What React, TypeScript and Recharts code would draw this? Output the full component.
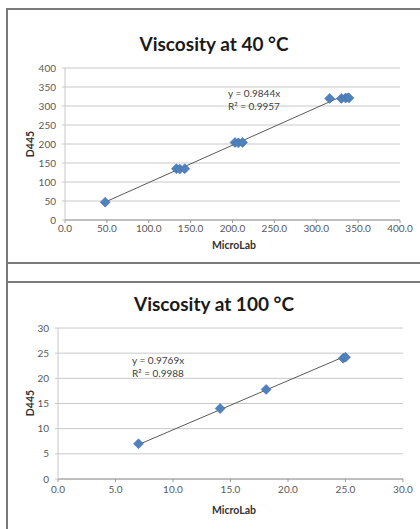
import React from 'react';
import { ScatterChart, Scatter, XAxis, YAxis, CartesianGrid, ReferenceLine } from 'recharts';

// Viscosity at 40 °C
const microLab40 = [48, 133, 137, 143, 203, 207, 212, 316, 330, 335, 339];
const d445At40 = [47, 135, 134, 135, 204, 203, 204, 320, 320, 321, 321];
const slope40 = 0.9844;
const r2At40 = 0.9957;
const xTicks40 = [0, 50, 100, 150, 200, 250, 300, 350, 400];
const yTicks40 = [0, 50, 100, 150, 200, 250, 300, 350, 400];

// Viscosity at 100 °C
const microLab100 = [7.0, 14.1, 18.1, 24.8, 25.0];
const d445At100 = [7.0, 14.0, 17.8, 24.0, 24.2];
const slope100 = 0.9769;
const r2At100 = 0.9988;
const xTicks100 = [0, 5, 10, 15, 20, 25, 30];
const yTicks100 = [0, 5, 10, 15, 20, 25, 30];

const FONT = 'Lato, "Liberation Sans", sans-serif';
const BLUE = '#4F81BD';
const BORDER = '#7a7a7a';

const rows40 = microLab40.map((x, i) => ({ x, y: d445At40[i] }));
const rows100 = microLab100.map((x, i) => ({ x, y: d445At100[i] }));

const Diamond = (props: any) => {
  const { cx, cy } = props;
  if (cx == null || cy == null) return null;
  const r = 5;
  return (
    <polygon
      points={`${cx},${cy - r} ${cx + r},${cy} ${cx},${cy + r} ${cx - r},${cy}`}
      fill={BLUE}
      stroke="#3d6ca8"
      strokeWidth={0.5}
    />
  );
};

const tickStyle = { fontSize: 10, fill: '#595959', fontFamily: FONT };

function abs(style: React.CSSProperties): React.CSSProperties {
  return { position: 'absolute', ...style };
}

function Panel(props: {
  top: number;
  height: number;
  margin: { top: number; right: number; bottom: number; left: number };
  rows: { x: number; y: number }[];
  xs: number[];
  slope: number;
  xTicks: number[];
  yTicks: number[];
  xTickMargin: number;
}) {
  const { rows, xs, slope } = props;
  const xMin = Math.min(...xs);
  const xMax = Math.max(...xs);
  const xDomainMax = props.xTicks[props.xTicks.length - 1];
  const yDomainMax = props.yTicks[props.yTicks.length - 1];
  return (
    <div style={abs({ left: 0, top: props.top, width: 420, height: props.height })}>
      <ScatterChart width={420} height={props.height} margin={props.margin}>
        <CartesianGrid vertical={false} stroke="#c8c8c8" strokeWidth={1} />
        <XAxis
          type="number"
          dataKey="x"
          domain={[0, xDomainMax]}
          ticks={props.xTicks}
          tickFormatter={(v: number) => v.toFixed(1)}
          height={30}
          tick={tickStyle}
          tickSize={3}
          tickMargin={props.xTickMargin}
          stroke="#9a9a9a"
          interval={0}
        />
        <YAxis
          type="number"
          dataKey="y"
          domain={[0, yDomainMax]}
          ticks={props.yTicks}
          width={40}
          tick={tickStyle}
          tickSize={3}
          tickMargin={6}
          stroke="#c8c8c8"
          interval={0}
        />
        <ReferenceLine
          segment={[
            { x: xMin, y: slope * xMin },
            { x: xMax, y: slope * xMax },
          ]}
          stroke="#5a5a5a"
          strokeWidth={1}
          ifOverflow="visible"
        />
        <Scatter data={rows} shape={Diamond} isAnimationActive={false} />
      </ScatterChart>
    </div>
  );
}

const titleStyle: React.CSSProperties = {
  fontFamily: FONT,
  fontWeight: 700,
  fontSize: 19,
  color: '#1a1a1a',
  whiteSpace: 'nowrap',
  transform: 'translate(-50%, -50%)',
};

const axisTitleStyle: React.CSSProperties = {
  fontFamily: FONT,
  fontWeight: 700,
  fontSize: 10.5,
  color: '#333',
  whiteSpace: 'nowrap',
};

const annotStyle: React.CSSProperties = {
  fontFamily: FONT,
  fontSize: 10,
  color: '#404040',
  whiteSpace: 'nowrap',
  lineHeight: '12.5px',
};

export default function App() {
  return (
    <div style={abs({ left: 0, top: 0, width: 420, height: 529, background: '#fff', overflow: 'hidden' })}>
      {/* table borders */}
      <div style={abs({ left: 6, top: 8, width: 414, height: 2, background: BORDER })} />
      <div style={abs({ left: 6, top: 8, width: 2, height: 521, background: BORDER })} />
      <div style={abs({ left: 6, top: 262, width: 414, height: 2, background: BORDER })} />
      <div style={abs({ left: 6, top: 281, width: 414, height: 2, background: BORDER })} />

      {/* Chart 1 */}
      <Panel
        top={0}
        height={262}
        margin={{ top: 68, right: 20, bottom: 12, left: 25 }}
        rows={rows40}
        xs={microLab40}
        slope={slope40}
        xTicks={xTicks40}
        yTicks={yTicks40}
        xTickMargin={2}
      />
      <div style={abs({ left: 214, top: 43, ...titleStyle })}>Viscosity at 40 °C</div>
      <div style={abs({ left: 234, top: 245, transform: 'translate(-50%, -50%)', ...axisTitleStyle })}>MicroLab</div>
      <div style={abs({ left: 30, top: 144, transform: 'translate(-50%, -50%) rotate(-90deg)', ...axisTitleStyle })}>D445</div>
      <div style={abs({ left: 228, top: 87, ...annotStyle })}>
        <div>y = {slope40}x</div>
        <div>R² = {r2At40}</div>
      </div>

      {/* Chart 2 */}
      <Panel
        top={282}
        height={247}
        margin={{ top: 46, right: 17, bottom: 20, left: 18 }}
        rows={rows100}
        xs={microLab100}
        slope={slope100}
        xTicks={xTicks100}
        yTicks={yTicks100}
        xTickMargin={4}
      />
      <div style={abs({ left: 214, top: 303, ...titleStyle })}>Viscosity at 100 °C</div>
      <div style={abs({ left: 234, top: 510, transform: 'translate(-50%, -50%)', ...axisTitleStyle })}>MicroLab</div>
      <div style={abs({ left: 30, top: 403, transform: 'translate(-50%, -50%) rotate(-90deg)', ...axisTitleStyle })}>D445</div>
      <div style={abs({ left: 132, top: 354, ...annotStyle })}>
        <div>y = {slope100}x</div>
        <div>R² = {r2At100}</div>
      </div>
    </div>
  );
}
